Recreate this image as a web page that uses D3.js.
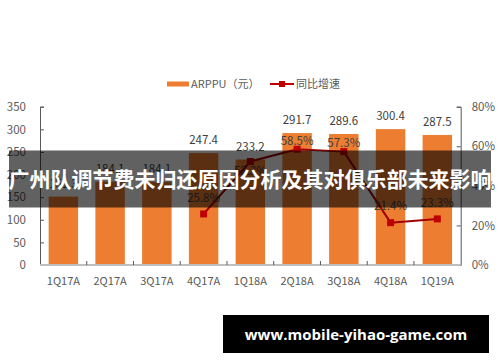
<!DOCTYPE html>
<html>
<head>
<meta charset="utf-8">
<script src="https://cdn.jsdelivr.net/npm/d3@7"></script>
<style>
  body { margin: 0; background: #fff; }
  svg { display: block; font-family: "Noto Sans CJK SC", "Noto Sans", sans-serif; }
</style>
</head>
<body>
<div class="chart"></div>
<script>
// data
var categories = ["1Q17A", "2Q17A", "3Q17A", "4Q17A", "1Q18A", "2Q18A", "3Q18A", "4Q18A", "1Q19A"];
var arppu = [151.3, 184.1, 184.1, 247.4, 233.2, 291.7, 289.6, 300.4, 287.5];
var growth = [null, null, null, 25.8, 52.3, 58.5, 57.3, 21.4, 23.3];
var leftTicks = [0, 50, 100, 150, 200, 250, 300, 350];
var rightTicks = [0, 20, 40, 60, 80];
// label nudges (px) for the growth labels, as placed in the picture
var growthLabelDy = [0, 0, 0, -16, 9, -8, -9, -17, -16];

var width = 500, height = 362;
var plotLeft = 40, plotRight = 460.7, plotTop = 106.7, plotBottom = 265;

var svg = d3.select('.chart')
            .append('svg')
            .attr('width', width)
            .attr('height', height);

var x = d3.scaleBand()
          .domain(categories)
          .range([plotLeft, plotRight])
          .paddingInner(0.37)
          .paddingOuter(0.185);

// band boundaries for the category ticks
var xEdge = d3.scaleLinear().domain([0, categories.length]).range([plotLeft, plotRight]);

var yL = d3.scaleLinear().domain([0, 350]).range([plotBottom, plotTop]);
var yR = d3.scaleLinear().domain([0, 80]).range([plotBottom, plotTop]);

var orange = "#ED7D31", red = "#C00000", lineRed = "#A00000", grey = "#595959";

// bars
svg.selectAll("rect.bar")
   .data(arppu)
   .enter().append("rect")
   .attr("class", "bar")
   .attr("x", function(d, i) { return x(categories[i]); })
   .attr("width", x.bandwidth())
   .attr("y", function(d) { return yL(d); })
   .attr("height", function(d) { return plotBottom - yL(d); })
   .attr("fill", orange);

// bar labels
svg.selectAll("text.barlab")
   .data(arppu)
   .enter().append("text")
   .attr("class", "barlab")
   .attr("x", function(d, i) { return x(categories[i]) + x.bandwidth() / 2; })
   .attr("y", function(d) { return yL(d) - 9; })
   .attr("text-anchor", "middle")
   .attr("font-size", 11.5)
   .attr("fill", "#404040")
   .text(function(d) { return d.toFixed(1); });

// left axis
var axL = svg.append("g").attr("transform", "translate(" + plotLeft + ",0)")
  .call(d3.axisLeft(yL).tickValues(leftTicks).tickSizeInner(-4).tickSizeOuter(-4).tickPadding(14));
axL.select(".domain").attr("stroke", grey);
axL.selectAll(".tick line").attr("stroke", grey);
axL.selectAll("text").attr("fill", grey).attr("font-size", 11.5).attr("font-family", "Noto Sans CJK SC");

// right axis
var axR = svg.append("g").attr("transform", "translate(" + plotRight + ",0)")
  .call(d3.axisRight(yR).tickValues(rightTicks).tickFormat(function(d) { return d + "%"; })
        .tickSizeInner(-4).tickSizeOuter(-4).tickPadding(11));
axR.select(".domain").attr("stroke", grey);
axR.selectAll(".tick line").attr("stroke", grey);
axR.selectAll("text").attr("fill", grey).attr("font-size", 11.5).attr("font-family", "Noto Sans CJK SC");

// bottom axis
svg.append("line")
   .attr("x1", plotLeft).attr("x2", plotRight)
   .attr("y1", plotBottom).attr("y2", plotBottom)
   .attr("stroke", "#BFBFBF").attr("stroke-width", 2);

svg.selectAll("line.ctick")
   .data(d3.range(1, categories.length))
   .enter().append("line")
   .attr("class", "ctick")
   .attr("x1", function(d) { return xEdge(d); })
   .attr("x2", function(d) { return xEdge(d); })
   .attr("y1", plotBottom - 4).attr("y2", plotBottom)
   .attr("stroke", grey);

svg.selectAll("text.cat")
   .data(categories)
   .enter().append("text")
   .attr("class", "cat")
   .attr("x", function(d) { return x(d) + x.bandwidth() / 2; })
   .attr("y", plotBottom + 20)
   .attr("text-anchor", "middle")
   .attr("font-size", 11)
   .attr("fill", grey)
   .text(function(d) { return d; });

// growth line
var pts = growth.map(function(d, i) { return { v: d, c: categories[i], i: i }; })
                .filter(function(d) { return d.v !== null; });

var line = d3.line()
  .x(function(d) { return x(d.c) + x.bandwidth() / 2; })
  .y(function(d) { return yR(d.v); });

svg.append("path")
   .datum(pts)
   .attr("d", line)
   .attr("fill", "none")
   .attr("stroke", lineRed)
   .attr("stroke-width", 2);

svg.selectAll("rect.mark")
   .data(pts)
   .enter().append("rect")
   .attr("class", "mark")
   .attr("x", function(d) { return x(d.c) + x.bandwidth() / 2 - 3.5; })
   .attr("y", function(d) { return yR(d.v) - 3.5; })
   .attr("width", 7).attr("height", 7)
   .attr("fill", red);

svg.selectAll("text.glab")
   .data(pts)
   .enter().append("text")
   .attr("class", "glab")
   .attr("x", function(d) { return x(d.c) + x.bandwidth() / 2; })
   .attr("y", function(d) { return yR(d.v) + growthLabelDy[d.i] + 4; })
   .attr("text-anchor", "middle")
   .attr("font-size", 11.5)
   .attr("fill", "#404040")
   .text(function(d) { return d.v.toFixed(1) + "%"; });

// legend
var lg = svg.append("g").attr("font-size", 11).attr("fill", grey);
lg.append("rect").attr("x", 167).attr("y", 81.5).attr("width", 22).attr("height", 5).attr("fill", orange);
lg.append("text").attr("x", 191).attr("y", 88).text("ARPPU（元）");
lg.append("line").attr("x1", 270).attr("x2", 294).attr("y1", 84).attr("y2", 84)
  .attr("stroke", red).attr("stroke-width", 2);
lg.append("rect").attr("x", 279).attr("y", 81).attr("width", 6).attr("height", 6).attr("fill", red);
lg.append("text").attr("x", 296).attr("y", 88).text("同比增速");

// title banner over the chart
svg.append("rect")
   .attr("x", 9).attr("y", 150.5)
   .attr("width", 482).attr("height", 57)
   .attr("fill", "rgba(0,0,0,0.62)");

svg.append("text")
   .attr("x", 250).attr("y", 187)
   .attr("text-anchor", "middle")
   .attr("font-size", 21)
   .attr("font-weight", "bold")
   .attr("fill", "#fff")
   .text("广州队调节费未归还原因分析及其对俱乐部未来影响");

// site box
svg.append("rect")
   .attr("x", 223).attr("y", 315)
   .attr("width", 266).attr("height", 38)
   .attr("fill", "#000");

svg.append("text")
   .attr("x", 356).attr("y", 339.5)
   .attr("text-anchor", "middle")
   .attr("font-size", 15)
   .attr("font-weight", "bold")
   .attr("font-family", "Open Sans, sans-serif")
   .attr("fill", "#fff")
   .text("www.mobile-yihao-game.com");
</script>
</body>
</html>
